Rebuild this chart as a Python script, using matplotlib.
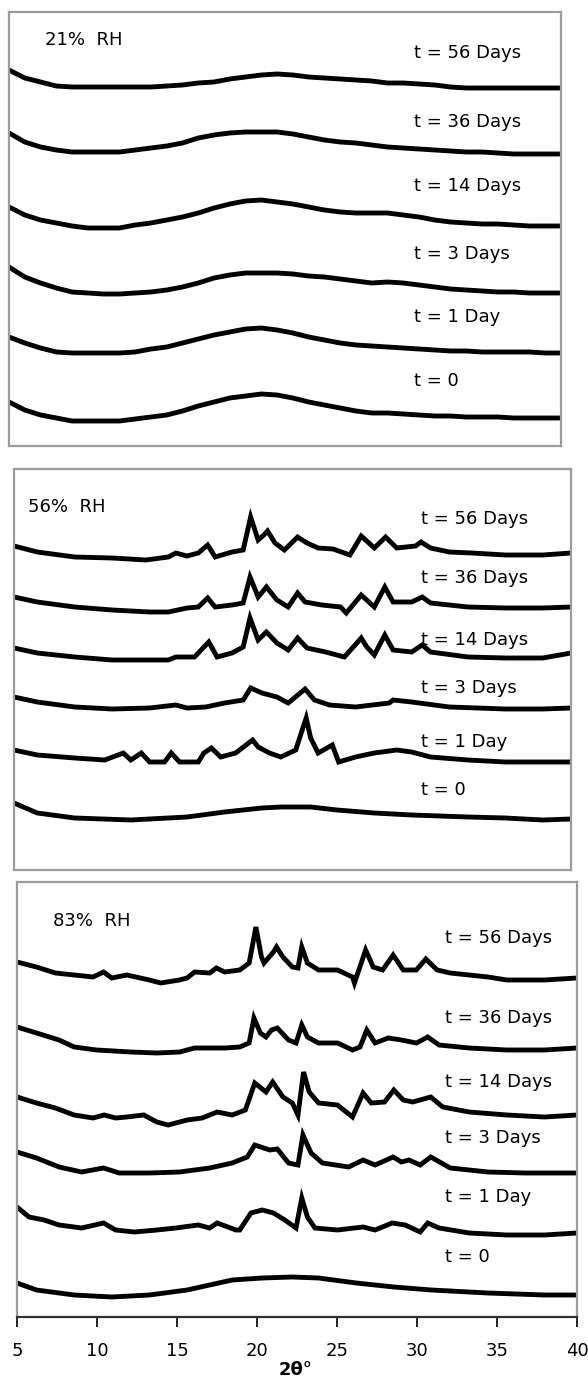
import matplotlib.pyplot as plt
import numpy as np

plt.rcParams['font.family'] = ['DejaVu Sans']

# ---------------- data (2theta in degrees, intensity in a.u., already offset) ----------------
day_labels = ['t = 56 Days', 't = 36 Days', 't = 14 Days', 't = 3 Days', 't = 1 Day', 't = 0']
rh_labels = ['21%  RH', '56%  RH', '83%  RH']
x_ticks = [5, 10, 15, 20, 25, 30, 35, 40]

# 21% RH - read at whole degrees
rh21_x = list(range(5, 41))
rh21_t56 = [376, 368, 364, 360, 359, 359, 359, 359, 359, 359, 360, 361, 363, 364, 367, 369, 371, 372,
            371, 369, 368, 367, 366, 365, 363, 363, 362, 361, 359, 358, 358, 358, 358, 358, 358, 358]
rh21_t36 = [313, 304, 299, 296, 294, 294, 294, 294, 296, 298, 300, 303, 308, 311, 313, 314, 314, 314,
            312, 309, 306, 304, 303, 301, 299, 298, 297, 296, 295, 294, 294, 293, 292, 292, 292, 292]
rh21_t14 = [239, 231, 226, 223, 220, 218, 218, 218, 221, 223, 226, 229, 233, 238, 242, 245, 246, 244,
            242, 239, 236, 234, 233, 233, 233, 231, 229, 226, 224, 223, 222, 222, 221, 220, 220, 220]
rh21_t3 = [179, 169, 163, 158, 154, 153, 152, 152, 153, 154, 156, 159, 163, 168, 171, 173, 173, 173,
           172, 170, 169, 167, 165, 163, 164, 163, 161, 159, 157, 156, 155, 154, 154, 153, 153, 153]
rh21_t1 = [109, 103, 98, 94, 93, 93, 93, 93, 94, 97, 99, 103, 107, 111, 114, 117, 118, 116,
           113, 109, 106, 103, 101, 100, 99, 98, 97, 96, 95, 95, 94, 94, 94, 94, 93, 93]
rh21_t0 = [44, 36, 31, 28, 25, 25, 25, 25, 27, 29, 31, 35, 40, 44, 48, 50, 52, 51,
           48, 44, 41, 38, 35, 33, 33, 32, 31, 30, 30, 29, 29, 29, 28, 28, 28, 28]

# 56% RH
rh56_t56_x = [5.0, 6.46, 8.81, 11.17, 13.28, 14.70, 15.17, 15.87, 16.58, 17.17, 17.64, 18.70, 19.40,
              19.87, 20.34, 20.70, 20.93, 21.40, 21.99, 22.82, 23.41, 24.11, 25.05, 26.11, 26.82,
              27.64, 28.35, 29.05, 30.23, 30.58, 31.17, 32.35, 33.76, 35.88, 38.23, 40.0]
rh56_t56_y = [324, 318, 313, 312, 310, 313, 317, 314, 317, 325, 313, 318, 320,
              353, 330, 335, 339, 327, 320, 333, 327, 322, 321, 315, 334,
              322, 333, 322, 324, 328, 322, 318, 317, 315, 315, 317]
rh56_t36_x = [5.0, 6.46, 8.81, 11.17, 13.52, 14.70, 15.87, 16.58, 17.17, 17.64, 18.70, 19.40, 19.83,
              20.34, 20.86, 21.52, 22.23, 22.82, 23.29, 24.35, 25.52, 25.88, 26.82, 27.64, 28.30,
              28.82, 29.99, 30.65, 31.17, 33.52, 35.88, 38.23, 40.0]
rh56_t36_y = [273, 268, 263, 260, 258, 258, 262, 263, 272, 263, 265, 267, 293,
              273, 283, 270, 263, 277, 268, 265, 263, 257, 275, 263, 283,
              268, 268, 273, 267, 263, 262, 262, 263]
rh56_t14_x = [5.0, 6.46, 8.81, 11.17, 14.70, 15.17, 16.34, 17.24, 17.76, 18.70, 19.40, 19.83, 20.34,
              20.86, 21.52, 22.23, 22.82, 23.41, 24.58, 25.76, 26.82, 27.17, 27.64, 28.30, 28.82,
              29.99, 30.65, 31.17, 33.52, 35.88, 38.23, 40.0]
rh56_t14_y = [222, 217, 213, 210, 210, 213, 213, 228, 213, 217, 223, 252, 230,
              238, 227, 220, 232, 222, 218, 213, 232, 223, 215, 235, 220,
              218, 225, 218, 213, 212, 212, 217]
rh56_t3_x = [5.0, 6.46, 8.81, 11.17, 13.52, 15.17, 15.87, 17.05, 18.23, 19.40, 19.87, 20.58, 21.52,
             22.23, 23.29, 23.88, 24.82, 26.46, 28.58, 28.82, 29.99, 32.35, 35.88, 38.23, 40.0]
rh56_t3_y = [173, 168, 163, 161, 162, 165, 162, 163, 167, 170, 182, 177, 173,
             167, 181, 170, 165, 163, 167, 170, 168, 163, 161, 161, 162]
rh56_t1_x = [5.0, 6.46, 8.81, 10.70, 11.87, 12.34, 13.0, 13.52, 14.46, 14.88, 15.40, 16.58, 16.93,
             17.40, 17.99, 18.93, 19.99, 20.34, 21.05, 21.76, 22.70, 23.36, 23.64, 24.11, 25.0,
             25.40, 26.46, 27.64, 29.05, 29.99, 31.17, 33.52, 35.88, 38.23, 40.0]
rh56_t1_y = [120, 115, 112, 110, 117, 110, 117, 108, 108, 117, 108, 108, 117,
             122, 113, 117, 130, 123, 117, 113, 120, 152, 132, 117, 125,
             108, 113, 117, 120, 118, 113, 110, 108, 108, 108]
rh56_t0_x = [5.0, 6.46, 8.81, 12.34, 15.87, 18.23, 20.58, 21.76, 23.64, 25.29, 27.64, 29.99, 33.52,
             35.88, 38.23, 40.0]
rh56_t0_y = [67, 57, 52, 50, 53, 58, 62, 63, 63, 60, 57, 55, 53, 52, 50, 51]

# 83% RH
rh83_t56_x = [5.0, 6.22, 7.40, 9.75, 10.41, 10.92, 11.86, 13.27, 13.98, 15.16, 15.63, 16.10, 17.04,
              17.46, 17.98, 18.92, 19.51, 19.93, 20.28, 20.44, 21.03, 21.22, 21.62, 22.21, 22.56,
              22.80, 23.15, 23.85, 25.03, 25.97, 26.09, 26.79, 27.26, 27.85, 28.51, 29.14, 29.96,
              30.55, 31.26, 32.08, 34.43, 35.61, 37.96, 40.0]
rh83_t56_y = [355, 350, 344, 340, 345, 339, 342, 337, 334, 337, 339, 345, 344,
              349, 345, 347, 354, 390, 360, 354, 365, 370, 360, 350, 349,
              370, 354, 347, 347, 340, 334, 367, 350, 347, 362, 347, 347,
              358, 347, 344, 340, 337, 337, 339]
rh83_t36_x = [5.0, 6.22, 7.63, 8.57, 9.98, 12.10, 13.74, 15.16, 16.10, 17.98, 18.92, 19.51, 19.81,
              20.21, 20.56, 20.91, 21.27, 21.97, 22.44, 22.80, 23.15, 23.85, 25.03, 25.97, 26.44,
              26.86, 27.38, 28.20, 29.02, 29.96, 30.67, 31.38, 33.26, 35.61, 37.96, 40.0]
rh83_t36_y = [290, 284, 277, 270, 267, 265, 264, 265, 269, 269, 270, 274, 299,
              284, 280, 287, 289, 277, 274, 292, 280, 274, 274, 267, 270,
              287, 274, 279, 277, 274, 280, 272, 269, 267, 267, 269]
rh83_t14_x = [5.0, 6.22, 7.40, 8.57, 9.75, 10.45, 11.16, 11.86, 12.92, 13.74, 14.45, 15.63, 16.57,
              17.51, 18.45, 19.27, 19.86, 20.56, 20.98, 21.62, 22.21, 22.56, 22.91, 23.26, 23.85,
              25.03, 25.97, 26.63, 27.14, 27.97, 28.55, 29.14, 29.73, 30.86, 31.61, 33.26, 35.61,
              37.96, 40.0]
rh83_t14_y = [220, 214, 209, 202, 199, 202, 199, 200, 202, 195, 192, 197, 199,
              205, 202, 207, 234, 225, 235, 220, 214, 202, 245, 225, 214,
              212, 200, 224, 214, 215, 227, 217, 215, 220, 210, 205, 202,
              200, 202]
rh83_t3_x = [5.0, 6.22, 7.63, 9.04, 10.41, 11.39, 13.27, 15.16, 17.04, 18.45, 19.39, 19.86, 20.80,
             21.27, 21.97, 22.56, 22.87, 23.38, 24.09, 25.73, 26.63, 27.38, 28.51, 29.02, 29.49,
             30.20, 30.86, 32.08, 34.43, 36.78, 40.0]
rh83_t3_y = [165, 159, 150, 145, 149, 144, 144, 145, 149, 154, 160, 172, 167,
             168, 154, 152, 182, 164, 154, 150, 157, 152, 160, 155, 157,
             152, 160, 149, 145, 144, 144]
rh83_t1_x = [5.0, 5.75, 6.69, 7.63, 9.04, 10.41, 11.16, 12.33, 13.74, 14.92, 16.33, 17.04, 17.51,
             18.68, 18.92, 19.62, 20.33, 21.03, 21.74, 22.44, 22.80, 23.15, 23.62, 25.03, 26.63,
             27.38, 28.44, 29.26, 30.20, 30.67, 31.38, 33.26, 35.61, 37.96, 40.0]
rh83_t1_y = [110, 100, 97, 92, 89, 94, 87, 85, 87, 89, 92, 89, 94,
             87, 87, 104, 107, 104, 97, 89, 119, 100, 89, 87, 90,
             87, 94, 92, 85, 94, 89, 84, 82, 82, 84]
rh83_t0_x = [5.0, 6.22, 8.57, 10.92, 13.27, 15.63, 17.04, 18.45, 20.33, 22.21, 23.85, 26.20, 28.55,
             30.90, 34.43, 37.96, 40.0]
rh83_t0_y = [34, 27, 22, 20, 22, 27, 32, 37, 39, 40, 39, 34, 30, 27, 24, 22, 22]

# ---------------- figure ----------------
fig = plt.figure(figsize=(5.88, 13.8), dpi=100)

frame_c = '#9c9c9c'
txt_size = 13

panels = [
    # rect, ymax, traces, rh label pos, day label x, day label ys
    ([9/588, 934/1380, 552/588, 434/1380], 434,
     [(rh21_x, rh21_t56), (rh21_x, rh21_t36), (rh21_x, rh21_t14),
      (rh21_x, rh21_t3), (rh21_x, rh21_t1), (rh21_x, rh21_t0)],
     (7.28, 406), 30.68, [393, 324, 260, 192, 129, 65]),
    ([14/588, 510/1380, 557/588, 401/1380], 401,
     [(rh56_t56_x, rh56_t56_y), (rh56_t36_x, rh56_t36_y), (rh56_t14_x, rh56_t14_y),
      (rh56_t3_x, rh56_t3_y), (rh56_t1_x, rh56_t1_y), (rh56_t0_x, rh56_t0_y)],
     (5.88, 363), 30.57, [351, 292, 230, 182, 128, 80]),
    ([17/588, 63/1380, 560/588, 435/1380], 435,
     [(rh83_t56_x, rh83_t56_y), (rh83_t36_x, rh83_t36_y), (rh83_t14_x, rh83_t14_y),
      (rh83_t3_x, rh83_t3_y), (rh83_t1_x, rh83_t1_y), (rh83_t0_x, rh83_t0_y)],
     (7.25, 396), 31.75, [379, 299, 235, 179, 120, 60]),
]

for i, (rect, ymax, traces, rh_pos, lx, lys) in enumerate(panels):
    ax = fig.add_axes(rect)
    for x, y in traces:
        ax.plot(np.array(x), np.array(y), c='k', lw=3.5, solid_joinstyle='miter')
    ax.set_xlim(5, 40)
    ax.set_ylim(0, ymax)
    for s in ax.spines.values():
        s.set_color(frame_c)
        s.set_linewidth(1.6)
    ax.set_yticks([])
    ax.text(rh_pos[0], rh_pos[1], rh_labels[i], fontsize=txt_size, va='center', ha='left')
    for lab, ly in zip(day_labels, lys):
        ax.text(lx, ly, lab, fontsize=txt_size, va='center', ha='left')
    if i < 2:
        ax.set_xticks([])
    else:
        ax.spines['bottom'].set_color('#333333')
        ax.set_xticks(x_ticks)
        ax.tick_params(axis='x', direction='out', length=7, width=1.2, pad=11,
                       labelsize=txt_size, color='k')

fig.text(296/588, 1 - 1370/1380, '2θ°', ha='center', va='center', fontsize=13, fontweight='bold')

fig.savefig('out.png', dpi=100)
